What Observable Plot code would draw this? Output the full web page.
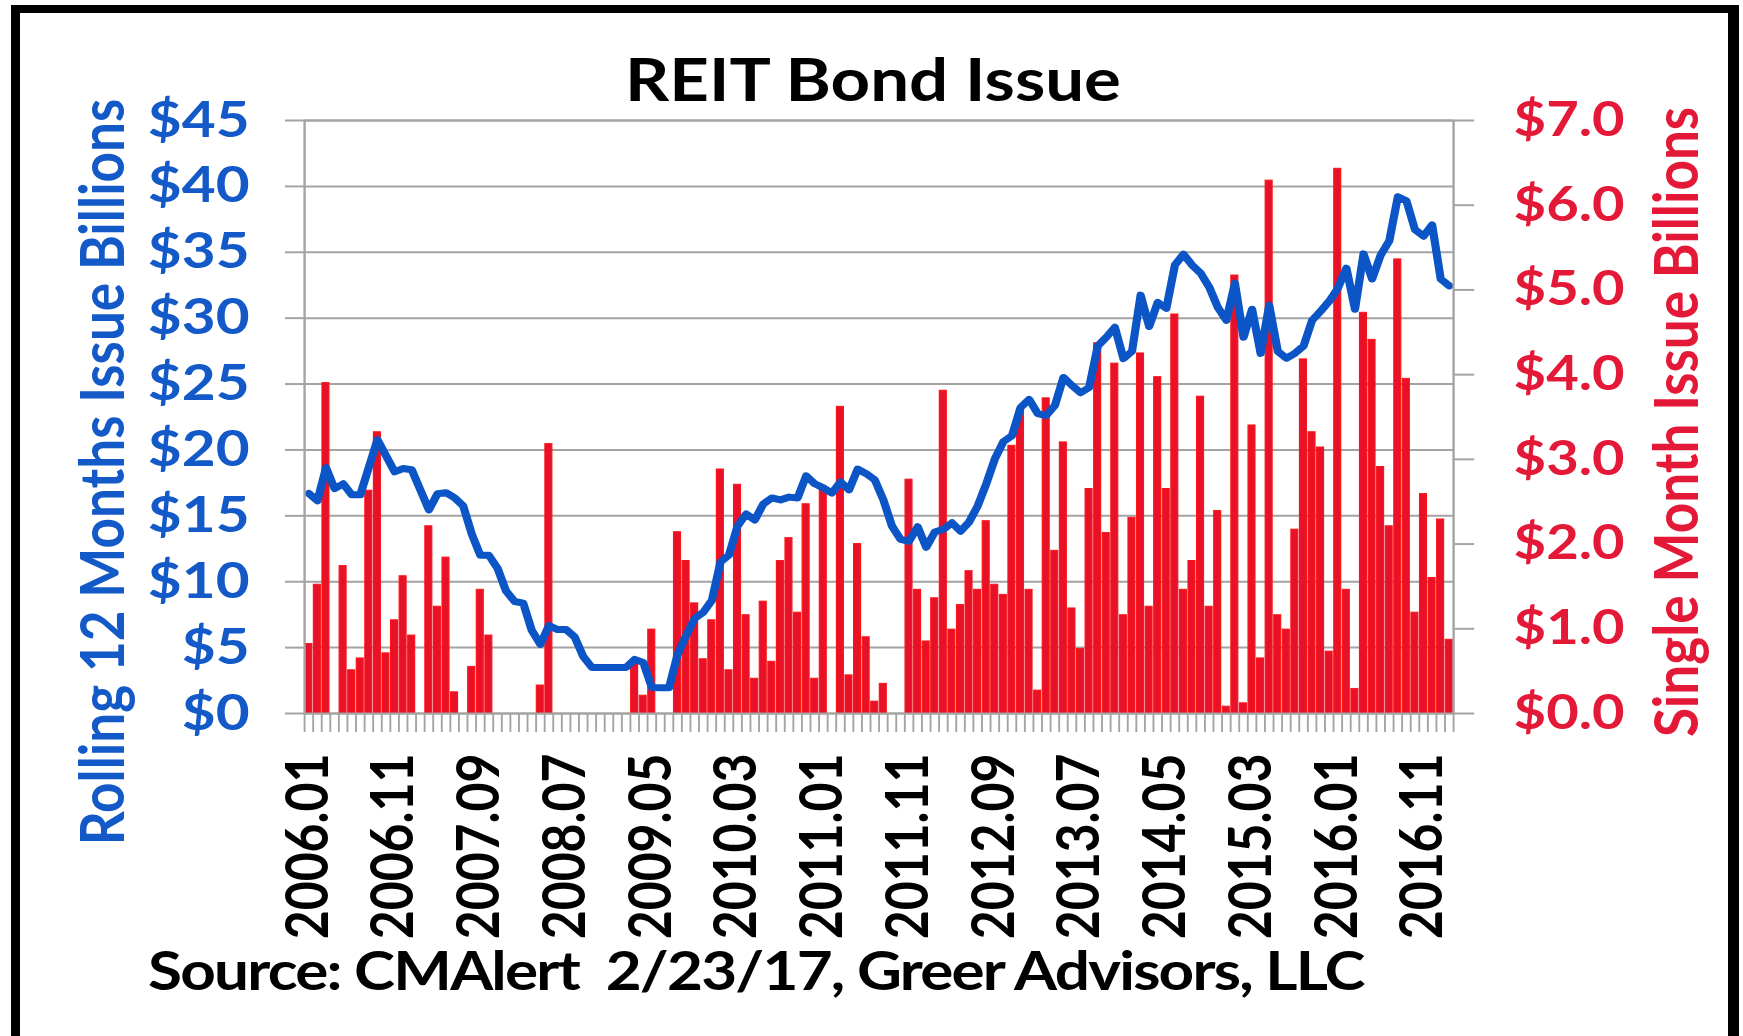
<!DOCTYPE html>
<html>
<head>
<meta charset="utf-8">
<script src="https://cdn.jsdelivr.net/npm/d3@7"></script>
<script src="https://cdn.jsdelivr.net/npm/@observablehq/plot@0.6"></script>
<style>
html, body { margin: 0; padding: 0; background: #fff; width: 1743px; height: 1036px; overflow: hidden; }
#chart { position: absolute; left: 0; top: 0; }
#frame { position: absolute; left: 11px; top: 5px; width: 1728px; height: 1040px; box-sizing: border-box;
  border: 9px solid #000; border-top-width: 8px; border-right-width: 11px; pointer-events: none; }
</style>
</head>
<body>
<div id="chart"></div>
<div id="frame"></div>
<script>
// ---------------- data ----------------
const startYear = 2006, startMonth = 1;

// Single month issue, $ billions (right axis), 2006.01 .. 2017.02
const singleMonth = [
  0.82, 1.52, 3.90, 0, 1.74, 0.51, 0.65, 2.63, 3.32, 0.71,
  1.10, 1.62, 0.92, 0, 2.21, 1.26, 1.84, 0.25, 0, 0.55,
  1.46, 0.92, 0, 0, 0, 0, 0, 0.33, 3.18, 0,
  0, 0, 0, 0, 0, 0, 0, 0, 0.60, 0.21,
  0.99, 0, 0, 2.14, 1.80, 1.30, 0.64, 1.10, 2.88, 0.51,
  2.70, 1.16, 0.41, 1.32, 0.61, 1.80, 2.07, 1.19, 2.47, 0.41,
  2.66, 0, 3.62, 0.45, 2.00, 0.90, 0.14, 0.35, 0, 0,
  2.76, 1.46, 0.85, 1.36, 3.81, 0.99, 1.28, 1.68, 1.46, 2.27,
  1.52, 1.40, 3.16, 3.59, 1.46, 0.27, 3.72, 1.92, 3.20, 1.24,
  0.76, 2.65, 4.37, 2.13, 4.13, 1.16, 2.31, 4.25, 1.26, 3.97,
  2.65, 4.71, 1.46, 1.80, 3.74, 1.26, 2.39, 0.08, 5.17, 0.12,
  3.40, 0.65, 6.29, 1.16, 0.99, 2.17, 4.18, 3.32, 3.14, 0.73,
  6.43, 1.46, 0.29, 4.73, 4.41, 2.91, 2.21, 5.36, 3.95, 1.19,
  2.59, 1.60, 2.29, 0.87
];

// Rolling 12 months issue, $ billions (left axis)
const rolling12 = [
  16.70, 16.15, 18.65, 17.06, 17.43, 16.60, 16.60, 18.70, 20.78, 19.56,
  18.34, 18.59, 18.50, 16.97, 15.45, 16.67, 16.76, 16.36, 15.75, 13.62,
  12.00, 12.00, 11.03, 9.29, 8.50, 8.38, 6.30, 5.24, 6.67, 6.37,
  6.37, 5.80, 4.33, 3.50, 3.50, 3.50, 3.50, 3.50, 4.11, 3.87,
  1.98, 1.95, 1.95, 4.48, 5.91, 7.22, 7.68, 8.59, 11.49, 12.03,
  14.23, 15.14, 14.68, 15.90, 16.36, 16.21, 16.42, 16.36, 18.04, 17.43,
  17.12, 16.73, 17.58, 16.97, 18.55, 18.20, 17.73, 16.21, 14.23, 13.22,
  13.07, 14.17, 12.61, 13.77, 13.98, 14.47, 13.83, 14.53, 15.75, 17.43,
  19.32, 20.63, 21.08, 23.22, 23.83, 22.76, 22.61, 23.37, 25.50, 24.89,
  24.34, 24.74, 27.88, 28.55, 29.31, 26.93, 27.48, 31.75, 29.37, 31.20,
  30.74, 34.03, 34.85, 34.03, 33.42, 32.36, 30.83, 29.83, 32.66, 28.55,
  30.68, 27.33, 30.98, 27.48, 26.96, 27.33, 27.88, 29.83, 30.53, 31.29,
  32.26, 33.79, 30.68, 34.88, 32.97, 34.79, 35.86, 39.21, 38.91, 36.71,
  36.22, 37.08, 32.97, 32.45
];

const tickLabels = ["2006.01", "2006.11", "2007.09", "2008.07", "2009.05", "2010.03", "2011.01",
  "2011.11", "2012.09", "2013.07", "2014.05", "2015.03", "2016.01", "2016.11"];
const leftTicks = [0, 5, 10, 15, 20, 25, 30, 35, 40, 45];
const rightTicks = [0, 1, 2, 3, 4, 5, 6, 7];

const titleText = "REIT Bond Issue";
const leftTitle = "Rolling 12 Months Issue Billions";
const rightTitle = "Single Month Issue Billions";
const sourceText = "Source: CMAlert\u00A0\u00A02/23/17, Greer Advisors, LLC";

// ---------------- build ----------------
const months = singleMonth.map((_, i) => {
  const m = startMonth - 1 + i;
  return `${startYear + Math.floor(m / 12)}.${String((m % 12) + 1).padStart(2, "0")}`;
});
const data = months.map((month, i) => ({i, month, single: singleMonth[i], rolling: rolling12[i]}));
const tickIdx = tickLabels.map(l => months.indexOf(l));
const R = 45 / 7; // right axis -> left axis units

const W = 1743, H = 1036;
const vw = 1490;            // drawing width, stretched horizontally to W
const S = W / vw;

const blue = "#1359C8", lineBlue = "#0B55C6", red = "#E31937", grid = "#a3a3a3";
const font = "Lato, 'Open Sans', sans-serif";

const plot = Plot.plot({
  width: vw, height: H,
  marginLeft: 304 / S, marginRight: (W - 1453) / S, marginTop: 120, marginBottom: H - 713,
  style: {background: "transparent", overflow: "visible", fontFamily: font},
  x: {type: "linear", domain: [0, months.length]},
  y: {domain: [0, 45]},
  marks: [
    Plot.gridY(leftTicks, {stroke: grid, strokeOpacity: 1, strokeWidth: 2}),
    Plot.rectY(data.filter(d => d.single > 0), {
      x1: d => d.i, x2: d => d.i + 1, y1: 0, y2: d => d.single * R,
      fill: "#E8112A", stroke: "#FF1414", strokeWidth: 1, insetLeft: 0.7, insetRight: 0.7
    }),
    Plot.line(data, {x: d => d.i + 0.5, y: "rolling", stroke: lineBlue, strokeWidth: 7,
      strokeLinejoin: "round", strokeLinecap: "round"}),
    Plot.frame({stroke: grid, strokeWidth: 2}),
    Plot.axisY(leftTicks, {anchor: "left", label: null, tickSize: 19 / S, tickPadding: 36 / S,
      tickFormat: d => "$" + d, stroke: grid, strokeWidth: 2, fill: blue,
      fontSize: 50, fontWeight: "bold"}),
    Plot.axisY(rightTicks.map(v => v * R), {anchor: "right", label: null, tickSize: 20 / S, tickPadding: 40 / S,
      tickFormat: d => "$" + (d / R).toFixed(1), stroke: grid, strokeWidth: 2, fill: red,
      fontSize: 48, fontWeight: "bold"}),
    Plot.axisX(d3.range(months.length + 1), {anchor: "bottom", label: null, tickSize: 19, tickFormat: () => "",
      stroke: grid, strokeWidth: 1.6}),
    Plot.axisX(tickIdx.map(i => i + 0.5), {anchor: "bottom", label: null, tickSize: 0, tickPadding: 40,
      tickRotate: -90, textAnchor: "end", tickFormat: d => months[Math.round(d - 0.5)],
      fill: "#000", fontSize: 50, fontWeight: "bold"})
  ]
});

const svg = d3.select(plot);
svg.attr("width", W).attr("height", H).attr("preserveAspectRatio", "none")
  .style("max-width", "none").style("width", W + "px").style("height", H + "px");

svg.append("text").text(titleText)
  .attr("x", 873 / S).attr("y", 101).attr("text-anchor", "middle")
  .attr("font-family", font).attr("font-weight", "bold").attr("font-size", 59).attr("fill", "#000");

svg.append("text").text(leftTitle)
  .attr("transform", `translate(${124 / S},472) rotate(-90)`).attr("text-anchor", "middle")
  .attr("font-family", font).attr("font-weight", "bold").attr("font-size", 53).attr("fill", blue);

svg.append("text").text(rightTitle)
  .attr("transform", `translate(${1698 / S},422) rotate(-90)`).attr("text-anchor", "middle")
  .attr("font-family", font).attr("font-weight", "bold").attr("font-size", 53).attr("fill", red);

svg.append("text").text(sourceText)
  .attr("x", 148 / S).attr("y", 990).attr("text-anchor", "start").attr("letter-spacing", -1.5)
  .attr("font-family", font).attr("font-weight", "bold").attr("font-size", 53).attr("fill", "#000");

document.getElementById("chart").appendChild(plot);
</script>
</body>
</html>
